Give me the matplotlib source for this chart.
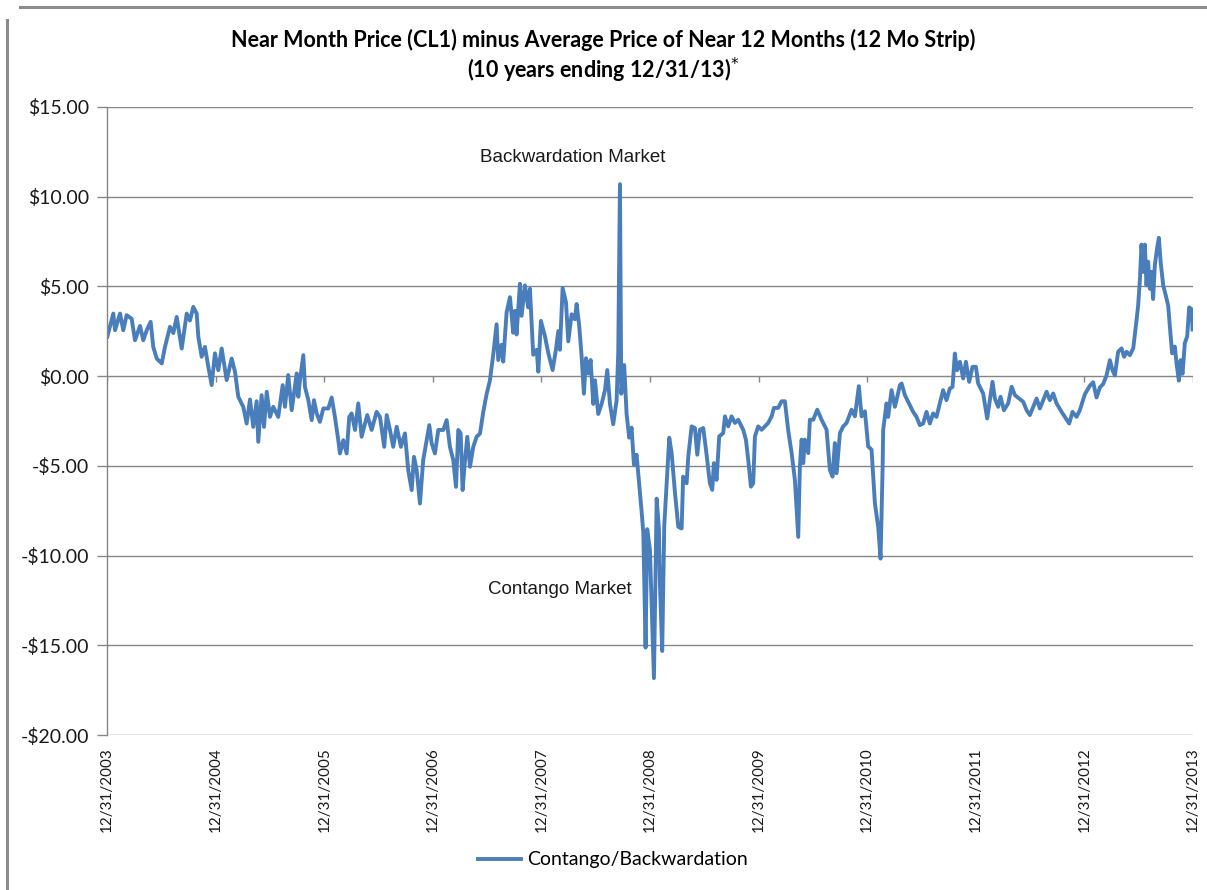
import matplotlib
matplotlib.use("Agg")
import matplotlib.pyplot as plt
from matplotlib.lines import Line2D
import numpy as np
import pandas as pd

# ---------------- data ----------------
start_date = "2003-12-31"
# years elapsed since 12/31/2003
years_elapsed = [
    0.003, 0.058, 0.074, 0.120, 0.150, 0.181, 0.227, 0.258, 0.304, 0.334,
    0.366, 0.402, 0.426, 0.458, 0.504, 0.534, 0.580, 0.611, 0.642, 0.688,
    0.734, 0.764, 0.795, 0.826, 0.841, 0.872, 0.902, 0.933, 0.964, 0.994,
    1.025, 1.056, 1.102, 1.148, 1.179, 1.209, 1.255, 1.286, 1.317, 1.347,
    1.378, 1.393, 1.424, 1.446, 1.471, 1.501, 1.531, 1.577, 1.618, 1.639,
    1.669, 1.701, 1.747, 1.762, 1.777, 1.808, 1.823, 1.854, 1.885, 1.906,
    1.931, 1.961, 1.992, 2.038, 2.069, 2.099, 2.130, 2.145, 2.176, 2.207,
    2.231, 2.253, 2.284, 2.314, 2.345, 2.376, 2.397, 2.437, 2.483, 2.514,
    2.553, 2.576, 2.606, 2.636, 2.668, 2.707, 2.744, 2.774, 2.806, 2.827,
    2.852, 2.882, 2.912, 2.944, 2.968, 2.990, 3.020, 3.051, 3.097, 3.128,
    3.158, 3.189, 3.214, 3.235, 3.257, 3.275, 3.297, 3.318, 3.343, 3.373,
    3.404, 3.435, 3.465, 3.496, 3.526, 3.557, 3.588, 3.603, 3.634, 3.649,
    3.680, 3.711, 3.741, 3.757, 3.772, 3.803, 3.818, 3.849, 3.879, 3.895,
    3.925, 3.957, 3.972, 3.996, 4.033, 4.064, 4.104, 4.134, 4.156, 4.171,
    4.196, 4.227, 4.248, 4.279, 4.309, 4.325, 4.349, 4.371, 4.392, 4.411,
    4.432, 4.454, 4.478, 4.494, 4.524, 4.555, 4.586, 4.607, 4.632, 4.662,
    4.693, 4.708, 4.724, 4.736, 4.763, 4.785, 4.809, 4.831, 4.853, 4.877,
    4.902, 4.924, 4.939, 4.960, 4.975, 5.000, 5.015, 5.037, 5.062, 5.083,
    5.092, 5.113, 5.132, 5.153, 5.178, 5.200, 5.230, 5.261, 5.292, 5.306,
    5.338, 5.353, 5.384, 5.414, 5.436, 5.460, 5.491, 5.522, 5.552, 5.574,
    5.589, 5.614, 5.638, 5.675, 5.691, 5.721, 5.752, 5.783, 5.813, 5.859,
    5.884, 5.905, 5.930, 5.951, 5.967, 5.997, 6.029, 6.059, 6.089, 6.121,
    6.142, 6.181, 6.213, 6.243, 6.273, 6.305, 6.335, 6.351, 6.366, 6.381,
    6.397, 6.412, 6.427, 6.458, 6.473, 6.504, 6.541, 6.581, 6.627, 6.657,
    6.682, 6.703, 6.719, 6.750, 6.780, 6.811, 6.857, 6.888, 6.924, 6.949,
    6.980, 7.010, 7.041, 7.072, 7.102, 7.124, 7.143, 7.148, 7.179, 7.194,
    7.225, 7.256, 7.271, 7.302, 7.318, 7.348, 7.378, 7.424, 7.455, 7.486,
    7.516, 7.547, 7.578, 7.608, 7.639, 7.670, 7.700, 7.731, 7.762, 7.787,
    7.808, 7.829, 7.855, 7.885, 7.910, 7.940, 7.971, 8.002, 8.023, 8.069,
    8.106, 8.131, 8.155, 8.177, 8.207, 8.229, 8.260, 8.299, 8.331, 8.361,
    8.401, 8.438, 8.469, 8.499, 8.530, 8.561, 8.591, 8.622, 8.653, 8.683,
    8.714, 8.745, 8.791, 8.821, 8.861, 8.892, 8.929, 8.959, 9.006, 9.052,
    9.082, 9.113, 9.144, 9.174, 9.205, 9.236, 9.260, 9.282, 9.312, 9.343,
    9.367, 9.390, 9.420, 9.451, 9.475, 9.496, 9.512, 9.527, 9.542, 9.558,
    9.573, 9.588, 9.604, 9.619, 9.634, 9.650, 9.671, 9.687, 9.703, 9.727,
    9.751, 9.773, 9.788, 9.809, 9.834, 9.850, 9.871, 9.887, 9.905, 9.926,
    9.948, 9.966, 9.988, 9.997,
]
spread = [
    2.20, 3.49, 2.56, 3.49, 2.56, 3.40, 3.20, 2.00, 2.80, 2.00,
    2.56, 3.03, 1.63, 0.98, 0.71, 1.63, 2.75, 2.40, 3.30, 1.54,
    3.49, 3.10, 3.86, 3.49, 2.19, 1.08, 1.63, 0.52, -0.50, 1.27,
    0.33, 1.54, -0.22, 0.98, 0.24, -1.15, -1.71, -2.64, -1.30, -2.83,
    -1.40, -3.66, -1.06, -2.83, -0.87, -2.27, -1.71, -2.27, -0.50, -1.71,
    0.06, -1.90, 0.15, -1.15, -0.22, 1.17, -0.60, -1.34, -2.45, -1.34,
    -2.08, -2.55, -1.80, -1.80, -1.19, -2.27, -3.57, -4.31, -3.57, -4.31,
    -2.27, -2.08, -3.00, -1.52, -3.38, -2.64, -2.17, -3.00, -1.99, -2.27,
    -3.94, -2.17, -3.00, -3.94, -2.82, -3.94, -3.19, -5.24, -6.35, -4.50,
    -5.24, -7.10, -4.68, -3.57, -2.73, -3.75, -4.31, -3.00, -3.00, -2.45,
    -3.94, -4.68, -6.17, -3.00, -3.19, -6.35, -4.68, -3.38, -5.05, -3.94,
    -3.38, -3.20, -2.00, -1.00, -0.25, 1.19, 2.89, 0.90, 1.75, 0.81,
    3.55, 4.40, 2.42, 3.64, 2.32, 5.15, 3.36, 5.06, 3.83, 4.87,
    1.19, 1.47, 0.25, 3.08, 2.23, 1.28, 0.34, 1.47, 2.51, 1.47,
    4.91, 4.11, 1.94, 3.45, 3.17, 4.02, 2.79, 1.09, -0.98, 1.00,
    0.15, 0.90, -1.55, -0.23, -2.11, -1.55, -0.79, 0.34, -1.55, -2.68,
    -1.36, 1.28, 10.70, -0.98, 0.62, -2.11, -3.43, -2.87, -4.94, -4.38,
    -6.08, -7.58, -8.72, -15.13, -8.53, -9.66, -12.50, -16.83, -6.83, -8.53,
    -11.55, -15.32, -8.34, -6.08, -3.43, -4.29, -6.45, -8.40, -8.49, -5.60,
    -5.97, -4.48, -2.80, -2.89, -4.38, -2.99, -2.89, -4.38, -5.97, -6.34,
    -4.85, -5.78, -3.36, -3.17, -2.24, -2.80, -2.24, -2.61, -2.43, -2.99,
    -3.54, -4.66, -6.16, -5.97, -3.36, -2.80, -2.99, -2.80, -2.61, -2.24,
    -1.77, -1.77, -1.40, -1.40, -2.99, -4.29, -5.78, -7.46, -8.96, -5.04,
    -3.54, -4.85, -3.54, -4.29, -2.43, -2.43, -1.87, -2.43, -2.99, -5.22,
    -5.60, -3.73, -5.41, -3.17, -2.80, -2.61, -1.87, -2.24, -0.56, -2.24,
    -1.96, -3.92, -4.10, -7.09, -8.40, -10.17, -5.06, -3.00, -1.52, -2.27,
    -0.78, -1.71, -1.34, -0.50, -0.41, -1.06, -1.43, -1.99, -2.27, -2.73,
    -2.64, -1.99, -2.64, -2.08, -2.27, -1.52, -0.78, -1.34, -0.69, -0.60,
    1.26, 0.33, 0.80, -0.13, 0.80, -0.32, 0.52, 0.52, -0.41, -0.97,
    -2.36, -1.34, -0.32, -1.25, -1.71, -1.15, -1.90, -1.52, -0.59, -1.06,
    -1.25, -1.43, -1.90, -2.17, -1.71, -1.25, -1.80, -1.34, -0.87, -1.34,
    -0.97, -1.52, -1.99, -2.27, -2.64, -1.99, -2.27, -1.90, -1.00, -0.53,
    -0.34, -1.19, -0.63, -0.44, 0.04, 0.89, 0.32, 0.04, 1.36, 1.55,
    1.08, 1.36, 1.17, 1.55, 2.78, 3.92, 5.34, 7.33, 5.81, 7.33,
    5.06, 6.38, 4.87, 5.81, 4.30, 6.19, 7.14, 7.71, 6.38, 5.06,
    4.49, 3.92, 2.78, 1.27, 1.65, 0.70, -0.25, 0.89, 0.13, 1.84,
    2.22, 3.83, 3.73, 2.60,
]
tick_years = list(range(2003, 2014))
y_ticks = [15, 10, 5, 0, -5, -10, -15, -20]
title_line1 = "Near Month Price (CL1) minus Average Price of Near 12 Months (12 Mo Strip)"
title_line2 = "(10 years ending 12/31/13)$^{*}$"
series_name = "Contango/Backwardation"

# ---------------- build ----------------
dates = pd.Timestamp(start_date) + pd.to_timedelta(np.array(years_elapsed) * 365.25, unit="D")
tick_dates = [pd.Timestamp(f"{y}-12-31") for y in tick_years]
tick_labels = [f"12/31/{y}" for y in tick_years]

W, H = 1207, 890
fig = plt.figure(figsize=(W / 100, H / 100), dpi=100)
ax = fig.add_axes([107 / W, 1 - 735 / H, (1193 - 107) / W, (735 - 107) / H])

line_color = "#4A7EBB"
grid_color = "#868686"

ln, = ax.plot(dates, spread, color=line_color, lw=2.8, solid_joinstyle="round")

ax.set_xlim(tick_dates[0], tick_dates[-1])
ax.set_ylim(-20, 15)
ax.set_yticks(y_ticks)
ax.set_yticklabels([f"${v:.2f}" if v >= 0 else f"-${-v:.2f}" for v in y_ticks],
                   fontfamily="Lato", fontsize=14, color="#1a1a1a")
ax.set_xticks(tick_dates)
ax.set_xticklabels(tick_labels, rotation=90, fontfamily="Lato", fontsize=11, color="#1a1a1a")

for yv in y_ticks:
    ax.axhline(yv, color=grid_color, lw=1.0, zorder=0)
# small tick marks on the zero line
ax.vlines(tick_dates, -0.3, 0, color=grid_color, lw=1.0, zorder=1)

for s in ["top", "right", "bottom"]:
    ax.spines[s].set_visible(False)
ax.spines["left"].set_color(grid_color)
ax.spines["left"].set_linewidth(1.0)
ax.tick_params(axis="y", length=7, color=grid_color, width=1.0, pad=6)
ax.tick_params(axis="x", length=0, pad=9)

fig.text(0.5, 1 - 40 / H, title_line1, ha="center", va="center",
         fontsize=15.5, fontweight="bold", family="Lato")
fig.text(0.5, 1 - 70 / H, title_line2, ha="center", va="center",
         fontsize=15.5, fontweight="bold", family="Lato")

fig.text(573 / W, 1 - 157 / H, "Backwardation Market", ha="center", va="center",
         fontsize=13.5, family="Liberation Sans", color="#1a1a1a")
fig.text(560 / W, 1 - 590 / H, "Contango Market", ha="center", va="center",
         fontsize=13.5, family="Liberation Sans", color="#1a1a1a")

fig.legend([ln], [series_name], loc="center", bbox_to_anchor=(613 / W, 1 - 860 / H),
           frameon=False, handlelength=2.2, handletextpad=0.3,
           prop={"family": "Lato", "size": 14})

# outer frame lines
fig.add_artist(Line2D([20 / W, 1], [1 - 6.5 / H] * 2, transform=fig.transFigure,
                      color="#8c8c8c", lw=2.2))
fig.add_artist(Line2D([7 / W] * 2, [1 - 20 / H, 0], transform=fig.transFigure,
                      color="#8c8c8c", lw=2.2))

fig.savefig("out.png", dpi=100)
